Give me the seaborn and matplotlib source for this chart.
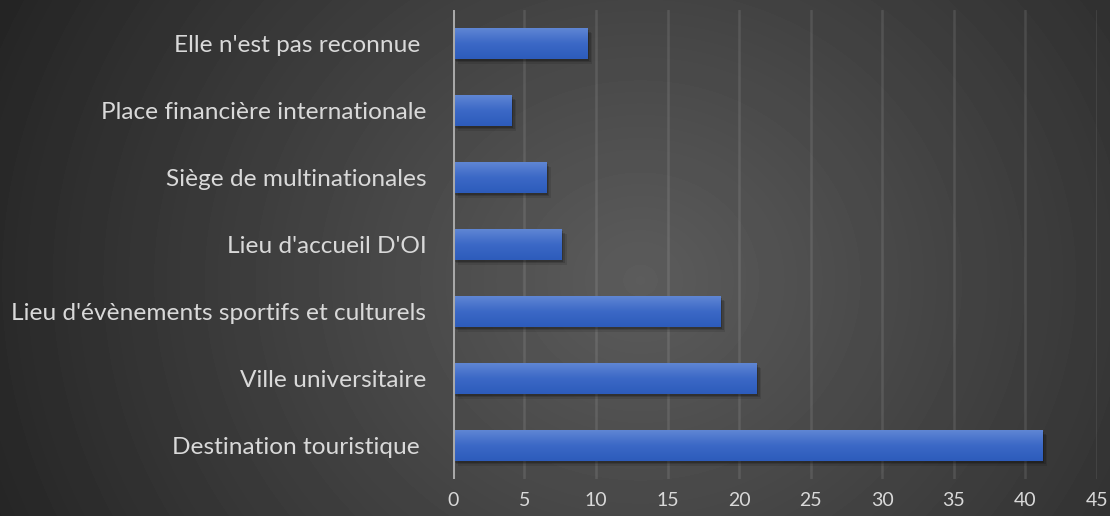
import numpy as np
import pandas as pd
import matplotlib
matplotlib.use("Agg")
import matplotlib.pyplot as plt
import matplotlib.patheffects as pe
from matplotlib.colors import LinearSegmentedColormap
import seaborn as sns

# Data (top to bottom)
categories = [
    "Elle n'est pas reconnue ",
    "Place financière internationale",
    "Siège de multinationales",
    "Lieu d'accueil D'OI",
    "Lieu d'évènements sportifs et culturels",
    "Ville universitaire",
    "Destination touristique ",
]
values = [9.4, 4.1, 6.5, 7.6, 18.7, 21.2, 41.2]
x_ticks = [0, 5, 10, 15, 20, 25, 30, 35, 40, 45]

sns.set_theme(style="dark")
plt.rcParams['font.family'] = ['Lato', 'DejaVu Sans']

fig = plt.figure(figsize=(11.1, 5.16), dpi=100)

# radial grey background
bg = fig.add_axes([0, 0, 1, 1], zorder=-10)
yy, xx = np.mgrid[0:516, 0:1110]
r = np.hypot(xx - 640, (yy - 280) * 1.1)
t = np.clip(r / 700, 0, 1)
shade = (0x5c / 255) * (1 - t) + (0x25 / 255) * t
bg.imshow(shade, cmap="gray", vmin=0, vmax=1, aspect="auto", extent=[0, 1, 0, 1])
bg.axis("off")

ax = fig.add_axes([0.408, 0.0717, 0.5802, 0.909])
ax.patch.set_alpha(0)

df = pd.DataFrame({"cat": categories, "val": values})
sns.barplot(data=df, x="val", y="cat", ax=ax, color="#3d6cc9",
            width=0.46, saturation=1, zorder=3)

# gradient fill + soft shadow on each bar
bar_cmap = LinearSegmentedColormap.from_list("bar", ["#5f86d4", "#3b68c6", "#2d5cbb"])
grad = np.linspace(0, 1, 64).reshape(-1, 1)
for p in ax.patches:
    x0, y0, w, h = p.get_x(), p.get_y(), p.get_width(), p.get_height()
    p.set_edgecolor("none")
    p.set_path_effects([
        pe.SimplePatchShadow(offset=(3.5, -3.5), shadow_rgbFace="black", alpha=0.10),
        pe.SimplePatchShadow(offset=(2.5, -2.5), shadow_rgbFace="black", alpha=0.15),
        pe.SimplePatchShadow(offset=(1.2, -1.2), shadow_rgbFace="black", alpha=0.2),
        pe.Normal(),
    ])
    im = ax.imshow(grad, cmap=bar_cmap, aspect="auto", origin="upper",
                   extent=[x0, x0 + w, y0 + h, y0], zorder=4)
    im.set_clip_path(p)

ax.set_xlim(0, 45)
ax.set_ylim(6.5, -0.5)
ax.set_xticks(x_ticks)
ax.set_xlabel("")
ax.set_ylabel("")

ax.grid(axis="x", color="white", alpha=0.1, lw=1.8, zorder=0)
ax.grid(axis="y", visible=False)
ax.axvline(0, color="#a8a8a8", lw=2.2, zorder=5)
for s in ax.spines.values():
    s.set_visible(False)

ax.tick_params(axis="y", length=0, pad=19, labelcolor="#d9d9d9", labelsize=17.6)
ax.tick_params(axis="x", length=0, pad=9, labelcolor="#d9d9d9", labelsize=14)

fig.savefig("out.png", dpi=100)
